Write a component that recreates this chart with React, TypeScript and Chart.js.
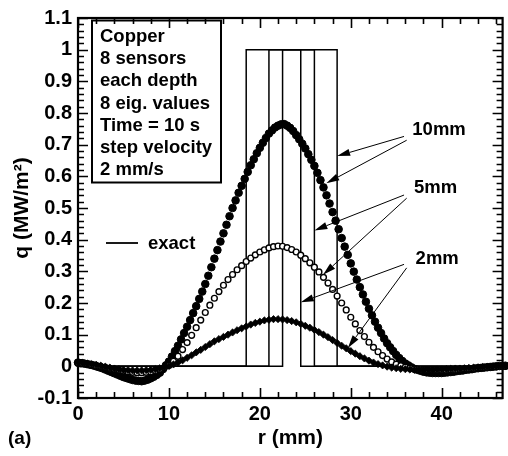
import React, { useEffect, useRef } from 'react';
import { Chart, registerables } from 'chart.js';

Chart.register(...registerables);

// ---- axes ----
const X_MIN = 0;
const X_MAX = 46.7;
const Y_MIN = -0.1;
const Y_MAX = 1.1;
const X_TICKS = [0, 10, 20, 30, 40];
const Y_TICKS = [-0.1, 0, 0.1, 0.2, 0.3, 0.4, 0.5, 0.6, 0.7, 0.8, 0.9, 1, 1.1];

// ---- exact heat-flux steps (q = 1 MW/m^2 between edges) ----
const EXACT_Q = 1;
const EXACT_LEFT = [18.5, 21, 22.5];
const EXACT_RIGHT = [28.5, 26, 24.5];

// ---- estimated heat flux, 10 mm depth (r = i * step) ----
const R_STEP_10MM = 1 / 3;
const Q_10MM = [
  0.012, 0.010, 0.009, 0.007, 0.005, 0.003, 0.000, -0.003, -0.006,
  -0.010, -0.014, -0.018, -0.022, -0.026, -0.030, -0.034, -0.037, -0.040,
  -0.043, -0.045, -0.046, -0.047, -0.045, -0.042, -0.038, -0.033, -0.027,
  -0.020, -0.009, 0.003, 0.015, 0.031, 0.048, 0.065, 0.085, 0.105,
  0.125, 0.146, 0.168, 0.190, 0.213, 0.236, 0.260, 0.286, 0.313,
  0.340, 0.367, 0.394, 0.420, 0.447, 0.474, 0.500, 0.524, 0.548,
  0.570, 0.592, 0.614, 0.635, 0.654, 0.673, 0.690, 0.706, 0.721,
  0.735, 0.745, 0.754, 0.760, 0.764, 0.765, 0.760, 0.753, 0.743,
  0.730, 0.717, 0.703, 0.688, 0.670, 0.652, 0.633, 0.611, 0.588,
  0.565, 0.540, 0.514, 0.487, 0.460, 0.433, 0.405, 0.378, 0.352,
  0.325, 0.299, 0.274, 0.250, 0.227, 0.204, 0.182, 0.161, 0.141,
  0.122, 0.105, 0.088, 0.073, 0.060, 0.048, 0.036, 0.026, 0.017,
  0.009, 0.003, -0.003, -0.008, -0.011, -0.014, -0.017, -0.019, -0.020,
  -0.021, -0.021, -0.021, -0.021, -0.020, -0.019, -0.018, -0.017, -0.015,
  -0.014, -0.013, -0.011, -0.010, -0.009, -0.007, -0.006, -0.005, -0.004,
  -0.003, -0.002, -0.001, 0.000, 0.001, 0.001, 0.002,
];

// ---- estimated heat flux, 5 mm depth ----
const R_STEP_5MM = 0.5;
const Q_5MM = [
  0.010, 0.009, 0.007, 0.005, 0.003, 0.000, -0.003, -0.006, -0.009, -0.012,
  -0.015, -0.017, -0.019, -0.020, -0.020, -0.019, -0.017, -0.013, -0.009, -0.004,
  0.003, 0.016, 0.032, 0.053, 0.075, 0.098, 0.122, 0.146, 0.170, 0.193,
  0.215, 0.236, 0.256, 0.274, 0.290, 0.305, 0.318, 0.331, 0.342, 0.352,
  0.361, 0.368, 0.374, 0.378, 0.380, 0.379, 0.375, 0.369, 0.361, 0.351,
  0.340, 0.327, 0.313, 0.298, 0.281, 0.263, 0.243, 0.222, 0.200, 0.178,
  0.155, 0.134, 0.113, 0.094, 0.076, 0.060, 0.046, 0.034, 0.023, 0.014,
  0.007, 0.002, -0.003, -0.006, -0.008, -0.010, -0.011, -0.012, -0.012, -0.012,
  -0.012, -0.012, -0.011, -0.010, -0.009, -0.008, -0.007, -0.006, -0.005, -0.004,
  -0.003, -0.002, -0.001, 0.000, 0.000,
];

// ---- estimated heat flux, 2 mm depth ----
const R_STEP_2MM = 0.5;
const Q_2MM = [
  0.012, 0.011, 0.009, 0.007, 0.005, 0.002, -0.001, -0.004, -0.007, -0.009,
  -0.011, -0.012, -0.013, -0.013, -0.013, -0.012, -0.011, -0.009, -0.006, -0.003,
  0.001, 0.006, 0.012, 0.019, 0.027, 0.035, 0.044, 0.052, 0.061, 0.070,
  0.079, 0.086, 0.093, 0.100, 0.107, 0.114, 0.120, 0.126, 0.132, 0.137,
  0.141, 0.145, 0.147, 0.149, 0.149, 0.148, 0.146, 0.143, 0.139, 0.134,
  0.128, 0.122, 0.115, 0.108, 0.100, 0.092, 0.083, 0.074, 0.065, 0.057,
  0.048, 0.040, 0.032, 0.025, 0.018, 0.012, 0.007, 0.003, -0.001, -0.004,
  -0.006, -0.008, -0.009, -0.010, -0.011, -0.011, -0.011, -0.011, -0.011, -0.010,
  -0.010, -0.009, -0.008, -0.007, -0.007, -0.006, -0.005, -0.004, -0.003, -0.002,
  -0.002, -0.001, 0.000, 0.001, 0.001,
];

// ---- text ----
const INFO_LINES = ['Copper', '8 sensors', 'each depth', '8 eig. values', 'Time = 10 s', 'step velocity', '2 mm/s'];
const EXACT_LABEL = 'exact';
const DEPTH_LABELS = ['10mm', '5mm', '2mm'];
const X_TITLE = 'r (mm)';
const Y_TITLE = 'q (MW/m²)';
const PANEL_LABEL = '(a)';

// annotation anchors in data units: label (left, baseline) and arrows [startX, startY, tipX, tipY]
const DEPTH_LABEL_POS = [
  [36.77, 0.729],
  [36.96, 0.546],
  [37.13, 0.324],
];
const DEPTH_ARROWS = [
  [[35.86, 0.726, 28.5, 0.664], [36.15, 0.714, 27.31, 0.578]],
  [[35.86, 0.541, 26.0, 0.429], [36.15, 0.531, 26.95, 0.289]],
  [[35.86, 0.322, 24.5, 0.202], [36.15, 0.311, 29.68, 0.058]],
];

const FONT = '"Liberation Sans", Arial, Helvetica, sans-serif';

function toPoints(values: number[], step: number) {
  return values.map((q, i) => ({ x: i * step, y: q }));
}

function exactPoints(l: number, r: number) {
  return [
    { x: X_MIN, y: 0 },
    { x: l, y: 0 },
    { x: l, y: EXACT_Q },
    { x: r, y: EXACT_Q },
    { x: r, y: 0 },
    { x: X_MAX, y: 0 },
  ];
}

function drawArrow(ctx: CanvasRenderingContext2D, x0: number, y0: number, x1: number, y1: number) {
  const ang = Math.atan2(y1 - y0, x1 - x0);
  const len = 13;
  const hw = 3.6;
  const bx = x1 - Math.cos(ang) * len;
  const by = y1 - Math.sin(ang) * len;
  ctx.beginPath();
  ctx.moveTo(x0, y0);
  ctx.lineTo(bx, by);
  ctx.lineWidth = 1;
  ctx.stroke();
  ctx.beginPath();
  ctx.moveTo(x1, y1);
  ctx.lineTo(bx - Math.sin(ang) * hw, by + Math.cos(ang) * hw);
  ctx.lineTo(bx + Math.sin(ang) * hw, by - Math.cos(ang) * hw);
  ctx.closePath();
  ctx.fill();
}

const decorPlugin = {
  id: 'decor',
  afterDraw(chart: any) {
    const { ctx, chartArea } = chart;
    const { left, right, top, bottom } = chartArea;
    const xs = chart.scales.x;
    const ys = chart.scales.y;
    ctx.save();
    ctx.strokeStyle = '#000';
    ctx.fillStyle = '#000';

    // inward ticks
    ctx.lineWidth = 1.6;
    ctx.beginPath();
    for (let k = 0; k * 2 <= X_MAX; k++) {
      const px = Math.round(xs.getPixelForValue(k * 2)) + 0.5;
      const len = k % 5 === 0 ? 10 : 6;
      ctx.moveTo(px, bottom);
      ctx.lineTo(px, bottom - len);
      ctx.moveTo(px, top);
      ctx.lineTo(px, top + len);
    }
    for (let k = -5; k <= 55; k++) {
      const py = Math.round(ys.getPixelForValue(k * 0.02)) + 0.5;
      const len = k % 5 === 0 ? 10 : 6;
      ctx.moveTo(left, py);
      ctx.lineTo(left + len, py);
      ctx.moveTo(right, py);
      ctx.lineTo(right - len, py);
    }
    ctx.stroke();

    // frame
    ctx.lineWidth = 2.2;
    ctx.strokeRect(left, top, right - left, bottom - top);

    // info box
    ctx.lineWidth = 2;
    ctx.strokeRect(92, 20.5, 129, 162);
    ctx.font = `bold 18.5px ${FONT}`;
    ctx.textAlign = 'left';
    ctx.textBaseline = 'alphabetic';
    INFO_LINES.forEach((t, i) => ctx.fillText(t, 100, 42 + i * 22.2));

    // exact legend
    ctx.lineWidth = 1.8;
    ctx.beginPath();
    ctx.moveTo(106, 243);
    ctx.lineTo(138, 243);
    ctx.stroke();
    ctx.fillText(EXACT_LABEL, 148, 248.5);

    // depth labels and arrows
    DEPTH_LABELS.forEach((t, i) => {
      const [lx, ly] = DEPTH_LABEL_POS[i];
      ctx.fillText(t, xs.getPixelForValue(lx), ys.getPixelForValue(ly));
      DEPTH_ARROWS[i].forEach(([sx, sy, tx, ty]) => {
        drawArrow(ctx, xs.getPixelForValue(sx), ys.getPixelForValue(sy), xs.getPixelForValue(tx), ys.getPixelForValue(ty));
      });
    });

    // axis titles
    ctx.font = `bold 21px ${FONT}`;
    ctx.textAlign = 'center';
    ctx.fillText(X_TITLE, (left + right) / 2, 444);
    ctx.save();
    ctx.translate(28, (top + bottom) / 2);
    ctx.rotate(-Math.PI / 2);
    ctx.fillText(Y_TITLE, 0, 0);
    ctx.restore();

    ctx.font = `bold 19px ${FONT}`;
    ctx.textAlign = 'left';
    ctx.fillText(PANEL_LABEL, 8, 444);
    ctx.restore();
  },
};

export default function App() {
  const ref = useRef<HTMLCanvasElement>(null);
  useEffect(() => {
    const canvas = ref.current;
    if (!canvas) return;
    const tickFont = { family: FONT, size: 20, weight: 'bold' as const };
    const exactSets = EXACT_LEFT.map((l, i) => ({
      label: `exact ${i}`,
      data: exactPoints(l, EXACT_RIGHT[i]),
      showLine: true,
      borderColor: '#000',
      borderWidth: 1.5,
      pointRadius: 0,
      fill: false,
      tension: 0,
      order: 10,
    }));
    const chart = new Chart(canvas, {
      type: 'scatter',
      data: {
        datasets: [
          ...exactSets,
          {
            label: '10mm',
            data: toPoints(Q_10MM, R_STEP_10MM),
            pointStyle: 'circle',
            pointRadius: 3.8,
            backgroundColor: '#000',
            borderColor: '#000',
            borderWidth: 1,
            clip: false,
            order: 3,
          },
          {
            label: '5mm',
            data: toPoints(Q_5MM, R_STEP_5MM),
            pointStyle: 'circle',
            pointRadius: 2.9,
            backgroundColor: '#fff',
            borderColor: '#000',
            borderWidth: 1.4,
            clip: false,
            order: 2,
          },
          {
            label: '2mm',
            data: toPoints(Q_2MM, R_STEP_2MM),
            pointStyle: 'rectRot',
            pointRadius: 3.6,
            backgroundColor: '#000',
            borderColor: '#000',
            borderWidth: 0.8,
            clip: false,
            order: 1,
          },
        ] as any,
      },
      options: {
        responsive: false,
        animation: false,
        devicePixelRatio: 1,
        layout: { padding: { top: 15, right: 2, left: 0, bottom: 0 } },
        plugins: { legend: { display: false }, tooltip: { enabled: false } },
        events: [],
        scales: {
          x: {
            type: 'linear',
            min: X_MIN,
            max: X_MAX,
            grid: { display: false, drawTicks: false },
            border: { display: false },
            ticks: { font: tickFont, color: '#000', padding: 4, maxRotation: 0 },
            afterBuildTicks: (s: any) => {
              s.ticks = X_TICKS.map((v) => ({ value: v }));
            },
            afterFit: (s: any) => {
              s.height = 58;
            },
          },
          y: {
            type: 'linear',
            min: Y_MIN,
            max: Y_MAX,
            grid: { display: false, drawTicks: false },
            border: { display: false },
            ticks: {
              font: tickFont,
              color: '#000',
              padding: 6,
              callback: (v: any) => String(Math.round(Number(v) * 10) / 10),
            },
            afterBuildTicks: (s: any) => {
              s.ticks = Y_TICKS.map((v) => ({ value: v }));
            },
            afterFit: (s: any) => {
              s.width = 78;
            },
          },
        },
      },
      plugins: [decorPlugin],
    } as any);
    return () => chart.destroy();
  }, []);
  return (
    <div style={{ position: 'absolute', left: 0, top: 0, width: 508, height: 456, background: '#fff' }}>
      <canvas ref={ref} width={508} height={456} style={{ display: 'block' }} />
    </div>
  );
}
